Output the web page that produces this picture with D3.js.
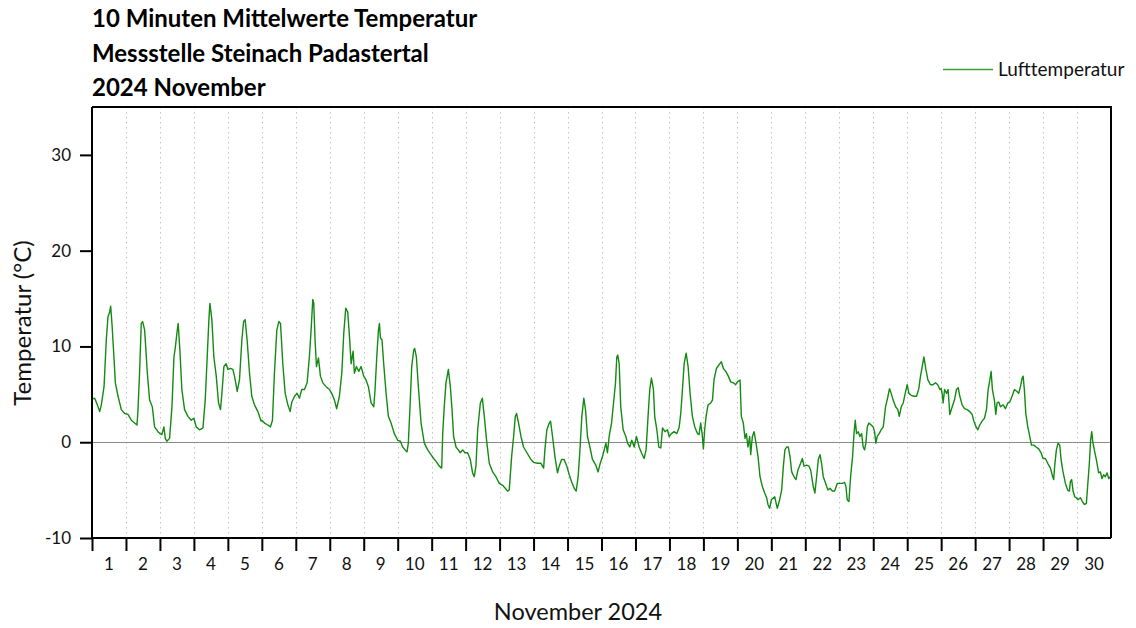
<!DOCTYPE html>
<html>
<head>
<meta charset="utf-8">
<script src="https://cdn.jsdelivr.net/npm/d3@7"></script>
<style>
  html, body { margin: 0; padding: 0; background: #fff; }
  svg { display: block; font-family: Lato, "Open Sans", sans-serif; }
</style>
</head>
<body>
<svg id="chart" width="1136" height="628"></svg>
<script>
// Air temperature, Steinach Padastertal, November 2024.
// Each reading: [hours since 1 Nov 00:00, temperature in °C]
const readings = [
  [0,4.5],[1.9,4.6],[3.8,3.9],[5.4,3.2],[6.6,3.9],[8.5,5.8],[10.1,10.7],[11.3,13.1],[12.5,13.6],[13.2,14.2],[14.1,12.4],[15.5,8.9],[16.5,6.2],[18.4,4.8],[20.7,3.4],[23.1,3.0],
  [25.4,2.9],[27.8,2.3],[30.1,2.0],[31.8,1.8],[32.5,3.4],[33.6,7.2],[34.8,12.4],[35.8,12.6],[37.2,11.7],[39.1,7.2],[40.7,4.4],[42.6,3.7],[44.2,1.6],[46.6,1.1],[48.0,0.9],
  [49.4,0.8],[50.8,1.6],[51.8,0.4],[52.9,0.1],[54.8,0.4],[56.5,3.7],[57.9,8.9],[58.8,9.8],[60.0,11.4],[60.9,12.4],[62.1,9.6],[63.5,5.5],[65.4,3.4],[67.8,2.7],[70.1,2.3],[72.0,2.5],
  [73.6,1.6],[76.0,1.3],[78.4,1.5],[80.0,4.4],[81.4,8.9],[82.6,12.8],[83.3,14.5],[84.7,12.8],[86.1,8.9],[87.8,6.9],[89.4,4.1],[90.8,3.4],[92.0,5.5],[93.2,7.9],[94.8,8.2],[96.0,7.6],
  [97.9,7.7],[99.5,7.6],[100.7,6.9],[102.6,5.3],[104.2,6.5],[105.9,10.7],[107.1,12.6],[108.2,12.8],[109.6,10.7],[111.3,7.2],[112.9,4.8],[114.8,3.9],[117.2,3.2],[119.5,2.2],
  [120,2.3],[121.9,2.0],[124.2,1.8],[126.1,1.6],[127.5,2.3],[128.9,7.2],[130.6,11.7],[132.0,12.6],[133.2,12.4],[134.8,8.2],[136.5,5.1],[138.4,3.9],[140.0,3.2],[141.2,4.2],[143.1,4.8],
  [144.9,5.1],[146.6,4.6],[148.2,5.5],[150.1,5.5],[152.0,6.2],[153.6,8.9],[154.8,11.7],[156.0,14.9],[156.7,14.5],[157.6,10.7],[158.6,7.9],[160.0,8.8],[161.4,6.9],[163.1,6.2],[165.4,5.8],[167.8,5.5],
  [169.4,5.1],[171.3,4.4],[172.9,3.5],[174.8,4.8],[176.5,7.2],[177.9,11.4],[179.3,14.0],[180.7,13.6],[181.9,11.1],[183.1,8.2],[184.5,9.5],[185.4,7.2],[186.8,7.9],[188.5,7.4],[190.1,7.9],[192.0,6.9],
  [193.6,6.5],[195.3,5.8],[197.2,4.1],[199.1,3.7],[200.0,5.5],[201.2,8.9],[202.4,11.7],[203.1,12.4],[203.8,10.9],[204.9,10.7],[206.1,8.2],[207.8,5.1],[209.4,2.7],[211.3,2.0],[213.6,0.9],[216.0,0.2],
  [217.9,0.1],[219.5,-0.5],[221.2,-0.8],[222.6,-1.0],[223.5,-0.1],[224.7,3.7],[225.9,7.9],[227.3,9.6],[228.0,9.8],[229.2,8.9],[230.6,5.8],[232.5,2.0],[234.8,-0.1],[237.2,-0.8],[239.5,-1.3],
  [241.4,-1.7],[243.1,-2.0],[245.4,-2.5],[247.1,-2.7],[247.8,0.9],[248.9,3.7],[250.1,6.2],[251.8,7.6],[253.2,5.8],[254.4,3.4],[255.5,0.6],[257.2,-0.5],[258.8,-0.8],[260.2,-1.1],[261.9,-0.8],[263.5,-1.1],
  [265.4,-1.1],[267.3,-1.8],[268.9,-3.2],[270.1,-3.6],[271.3,-2.5],[272.5,1.3],[274.4,4.1],[275.8,4.6],[277.2,2.7],[278.8,0.2],[280.7,-2.2],[283.1,-3.1],[285.4,-3.6],[287.8,-4.3],
  [290.1,-4.5],[292.0,-4.8],[293.6,-5.1],[294.8,-5.0],[296.5,-1.5],[297.9,0.6],[299.1,2.7],[300.0,3.0],[301.4,2.0],[303.1,0.6],[304.9,-0.5],[307.3,-1.1],[310.1,-1.8],[312.0,-2.1],
  [314.8,-2.2],[317.2,-2.2],[319.1,-2.7],[320.0,-0.8],[321.4,1.3],[323.1,2.0],[324.0,2.2],[325.4,0.6],[327.1,-1.5],[328.9,-3.2],[330.1,-2.5],[331.8,-1.8],[333.6,-1.8],[335.5,-2.5],
  [337.2,-3.4],[338.8,-4.1],[340.7,-4.8],[342.1,-5.1],[343.5,-3.6],[344.9,-0.5],[346.1,2.7],[347.5,4.6],[348.7,3.4],[350.1,0.6],[351.8,-0.5],[353.6,-1.8],[356.0,-2.4],[357.6,-3.1],[359.1,-2.2],
  [360.7,-1.5],[361.9,-0.8],[363.1,-0.1],[364.2,-1.1],[365.4,0.6],[367.1,2.0],[368.5,4.1],[369.9,6.2],[370.8,8.9],[371.5,9.1],[372.5,8.2],[373.6,3.7],[375.3,1.3],[377.2,0.6],[378.4,-0.1],[380.0,-0.5],[381.4,0.2],[383.1,-0.5],
  [384.7,0.6],[386.6,-0.5],[388.2,-1.1],[390.1,-1.7],[391.5,-0.8],[392.9,2.7],[394.1,5.5],[395.3,6.7],[396.7,5.5],[397.6,2.7],[399.1,1.3],[400.5,-0.5],[401.9,-0.6],[403.1,1.5],[404.9,1.1],[406.6,1.3],[407.8,0.6],
  [409.4,0.9],[411.3,1.1],[413.2,0.9],[414.8,1.5],[416.0,3.0],[417.2,5.5],[418.4,8.2],[419.8,9.3],[421.2,7.9],[422.6,5.1],[424.2,2.7],[425.9,1.6],[427.8,0.9],[428.9,0.8],[430.1,2.0],[431.1,0.9],[432.0,-0.7],
  [432.9,1.3],[433.9,2.7],[435.3,3.9],[437.2,4.1],[438.4,4.4],[439.5,6.5],[441.2,7.7],[443.1,8.1],[444.7,8.4],[446.1,7.7],[447.8,7.4],[449.6,6.9],[451.3,6.3],[453.2,6.2],[454.8,6.0],[456.0,6.3],
  [457.9,6.5],[458.8,2.7],[460.2,2.0],[461.4,0.4],[462.4,0.9],[463.5,-0.5],[464.7,0.6],[465.4,-1.3],[466.6,0.6],[467.8,1.1],[469.2,-0.1],[470.6,-1.5],[472.0,-3.6],[473.6,-4.6],[475.3,-5.3],[476.7,-5.8],[477.6,-6.5],[478.8,-6.9],
  [480,-6.0],[482.4,-5.7],[484.2,-6.9],[485.9,-6.0],[487.3,-5.0],[488.5,-2.5],[489.6,-0.8],[490.8,-0.5],[492.0,-0.5],[493.2,-1.5],[494.4,-3.1],[496.0,-3.6],[497.4,-3.9],[498.8,-2.9],[500.7,-2.2],[501.9,-1.7],[503.1,-2.5],
  [504.9,-2.4],[506.6,-2.5],[507.8,-2.9],[509.6,-4.6],[510.8,-5.3],[512.0,-3.6],[513.2,-1.8],[514.4,-1.3],[515.5,-2.2],[516.7,-3.6],[518.4,-4.3],[520.0,-5.0],[521.4,-4.8],[523.1,-5.1],[524.7,-5.1],[526.6,-4.3],[528.5,-4.3],
  [530.1,-4.3],[531.8,-4.2],[532.7,-4.6],[533.6,-6.0],[534.8,-6.2],[536.0,-3.6],[537.4,-1.5],[538.4,0.9],[539.3,2.3],[540.2,0.9],[541.4,1.1],[542.6,0.6],[543.8,0.9],[544.9,-0.5],[545.9,-0.8],[546.8,-0.1],[547.8,1.6],[548.9,2.0],[550.6,1.8],[552.0,1.6],
  [552.9,1.1],[553.9,-0.1],[554.8,0.6],[556.2,0.9],[557.6,1.3],[559.1,1.6],[560.7,3.7],[562.4,4.8],[563.5,5.6],[564.7,5.1],[566.1,4.4],[567.8,3.7],[569.4,3.4],[570.4,2.7],[571.8,3.7],[573.2,4.1],[574.6,5.1],[576.0,6.0],
  [577.2,5.1],[578.8,4.9],[580.7,4.8],[582.6,4.8],[584.2,5.6],[585.4,6.9],[586.6,7.9],[587.8,8.9],[589.2,7.6],[590.6,6.5],[592.5,6.0],[594.1,6.0],[596.0,6.2],[597.6,6.0],[599.1,5.5],
  [600,5.6],[600.7,5.1],[601.4,4.1],[602.4,5.5],[603.8,5.1],[604.9,5.5],[606.1,2.9],[607.8,3.7],[609.4,4.4],[610.8,5.5],[612.0,5.7],[613.2,4.8],[614.8,3.9],[616.5,3.5],[618.4,3.4],[620.2,3.2],[621.9,2.9],[623.1,2.2],
  [624.7,1.6],[625.9,1.3],[627.3,1.8],[628.9,2.2],[630.6,2.5],[632.0,3.4],[633.2,5.5],[634.4,6.5],[635.3,7.4],[636.2,5.5],[637.6,4.4],[638.6,2.9],[639.5,4.1],[640.7,4.2],[641.9,3.7],[643.8,3.9],[645.4,3.5],[647.1,4.1],
  [648.5,4.2],[650.1,4.8],[651.8,5.5],[653.6,5.3],[654.8,5.1],[656.0,5.8],[657.2,6.7],[657.9,6.9],[658.8,5.5],[659.8,3.0],[661.2,1.6],[662.6,0.6],[663.8,-0.3],[665.4,-0.3],[667.1,-0.5],[668.9,-0.7],[670.6,-1.1],[672.0,-1.7],
  [673.6,-1.7],[675.3,-2.2],[677.2,-2.7],[678.8,-3.6],[679.5,-3.9],[680.2,-2.5],[681.4,-0.8],[682.6,-0.1],[683.8,-0.3],[684.7,-1.8],[686.1,-3.1],[687.8,-4.3],[689.4,-5.0],[690.6,-5.1],[691.3,-4.1],[692.2,-3.9],[693.2,-5.1],[694.4,-5.7],[695.5,-5.8],
  [696.7,-6.0],[698.4,-5.8],[699.8,-6.2],[701.2,-6.5],[702.6,-6.4],[703.5,-4.6],[704.7,-2.2],[705.6,0.2],[706.4,1.1],[707.1,0.1],[708.2,-0.8],[709.6,-1.8],[711.3,-3.2],[712.5,-3.1],[713.6,-3.8],[714.8,-3.4],[716.0,-3.6],[717.2,-3.2],[718.4,-3.8],[719.5,-3.6]
];

const dayLabels = d3.range(1, 31).map(String);
const yTickValues = [-10, 0, 10, 20, 30];
const titleLines = [
  "10 Minuten Mittelwerte Temperatur",
  "Messstelle Steinach Padastertal",
  "2024 November"
];
const seriesName = "Lufttemperatur";
const xTitle = "November 2024";
const yTitle = "Temperatur (°C)";

const plot = { left: 92, right: 1111, top: 107, bottom: 538 };
const lineColor = "#138a13";

const svg = d3.select("#chart");

const x = d3.scaleLinear().domain([0, dayLabels.length * 24]).range([plot.left, plot.right]);
const y = d3.scaleLinear().domain([-10, 35]).range([plot.bottom, plot.top]);

// day separators (dotted)
svg.append("g")
  .selectAll("line")
  .data(d3.range(1, dayLabels.length))
  .join("line")
  .attr("x1", d => Math.round(x(d * 24)) + 0.5)
  .attr("x2", d => Math.round(x(d * 24)) + 0.5)
  .attr("y1", plot.top)
  .attr("y2", plot.bottom)
  .attr("stroke", "#c4c4c4")
  .attr("stroke-width", 1)
  .attr("stroke-dasharray", "1.5,3.5");

// zero reference line
svg.append("line")
  .attr("x1", plot.left).attr("x2", plot.right)
  .attr("y1", Math.round(y(0)) + 0.5).attr("y2", Math.round(y(0)) + 0.5)
  .attr("stroke", "#8a8a8a").attr("stroke-width", 1);

// temperature trace
const line = d3.line().x(d => x(d[0])).y(d => y(d[1]));
svg.append("path")
  .datum(readings)
  .attr("d", line)
  .attr("fill", "none")
  .attr("stroke", lineColor)
  .attr("stroke-width", 1.4)
  .attr("stroke-linejoin", "round");

// frame: top and right
svg.append("path")
  .attr("d", `M${plot.left},${plot.top}H${plot.right}V${plot.bottom}`)
  .attr("fill", "none").attr("stroke", "#000").attr("stroke-width", 2);

// y axis
const yAxis = svg.append("g")
  .attr("transform", `translate(${plot.left},0)`)
  .call(d3.axisLeft(y).tickValues(yTickValues).tickSize(12).tickPadding(9).tickFormat(d => String(d)));
yAxis.select(".domain").attr("stroke-width", 2).attr("d", `M0,${plot.top}V${plot.bottom}`);
yAxis.selectAll(".tick line").attr("stroke-width", 2);
yAxis.selectAll("text").attr("font-size", 17).attr("font-family", "Lato").attr("fill", "#111");

// x axis: ticks on day boundaries
const xAxis = svg.append("g")
  .attr("transform", `translate(0,${plot.bottom})`)
  .call(d3.axisBottom(x).tickValues(d3.range(0, dayLabels.length * 24 + 1, 24)).tickSize(13).tickFormat(""));
xAxis.select(".domain").attr("stroke-width", 2).attr("d", `M${plot.left},0H${plot.right}`);
xAxis.selectAll(".tick line").attr("stroke-width", 2);
xAxis.selectAll(".tick").filter(d => d === dayLabels.length * 24).remove();

// day labels centred in each day
svg.append("g")
  .selectAll("text")
  .data(dayLabels)
  .join("text")
  .attr("x", (d, i) => x((i + 0.5) * 24))
  .attr("y", 570)
  .attr("text-anchor", "middle")
  .attr("font-size", 17)
  .attr("fill", "#111")
  .text(d => d);

// titles
svg.append("g")
  .selectAll("text")
  .data(titleLines)
  .join("text")
  .attr("x", plot.left)
  .attr("y", (d, i) => [27, 62, 96][i])
  .attr("font-size", 24)
  .attr("font-weight", "bold")
  .attr("fill", "#000")
  .text(d => d);

// axis titles
svg.append("text")
  .attr("x", 578).attr("y", 620)
  .attr("text-anchor", "middle")
  .attr("font-size", 23.5).attr("fill", "#111")
  .text(xTitle);
svg.append("text")
  .attr("transform", "translate(31,323) rotate(-90)")
  .attr("text-anchor", "middle")
  .attr("font-size", 24).attr("fill", "#111")
  .text(yTitle);

// legend
svg.append("line")
  .attr("x1", 943).attr("x2", 993).attr("y1", 69.5).attr("y2", 69.5)
  .attr("stroke", "#3b9e3b").attr("stroke-width", 1.3);
svg.append("text")
  .attr("x", 998).attr("y", 76)
  .attr("font-size", 19).attr("fill", "#111")
  .text(seriesName);
</script>
</body>
</html>
